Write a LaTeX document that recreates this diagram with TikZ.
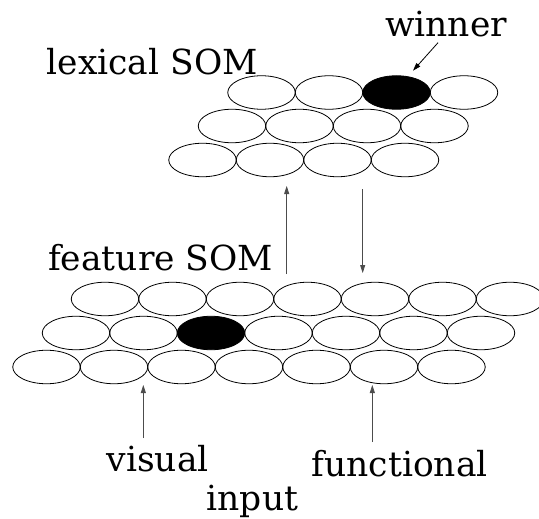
\documentclass[tikz,border=0pt]{standalone}
\usepackage{fontspec}
\setmainfont{DejaVu Serif}
\usetikzlibrary{shapes.geometric,arrows.meta}

\begin{document}
\begin{tikzpicture}
        [x=1pt,y=-1pt,
         cell/.style={draw,shape=ellipse,inner sep=0,minimum width=67.5pt,minimum height=33.5pt,line width=0.8pt},
         winnercell/.style={cell,fill=black},
         lbl/.style={inner sep=0,anchor=base west,font=\fontsize{34.5}{40}\selectfont},
         flow/.style={-{Triangle[length=8pt,width=5pt]},line width=0.8pt,black!70}]

        \useasboundingbox (0,0) rectangle (539,519);

        % lexical SOM
        \node[cell] (lex11) at (261.5, 92.5) {};
        \node[cell] (lex12) at (329, 92.5) {};
        \node[winnercell] (lex13) at (396.5, 92.5) {};
        \node[cell] (lex14) at (464, 92.5) {};
        \node[cell] (lex21) at (232, 126) {};
        \node[cell] (lex22) at (299.5, 126) {};
        \node[cell] (lex23) at (367, 126) {};
        \node[cell] (lex24) at (434.5, 126) {};
        \node[cell] (lex31) at (202.5, 160) {};
        \node[cell] (lex32) at (270, 160) {};
        \node[cell] (lex33) at (337.5, 160) {};
        \node[cell] (lex34) at (405, 160) {};

        % feature SOM
        \node[cell] (feat11) at (105, 299) {};
        \node[cell] (feat12) at (172.5, 299) {};
        \node[cell] (feat13) at (240, 299) {};
        \node[cell] (feat14) at (307.5, 299) {};
        \node[cell] (feat15) at (375, 299) {};
        \node[cell] (feat16) at (442.5, 299) {};
        \node[cell] (feat17) at (510, 299) {};
        \node[cell] (feat21) at (76, 333) {};
        \node[cell] (feat22) at (143.5, 333) {};
        \node[winnercell] (feat23) at (211, 333) {};
        \node[cell] (feat24) at (278.5, 333) {};
        \node[cell] (feat25) at (346, 333) {};
        \node[cell] (feat26) at (413.5, 333) {};
        \node[cell] (feat27) at (481, 333) {};
        \node[cell] (feat31) at (46.5, 367) {};
        \node[cell] (feat32) at (114, 367) {};
        \node[cell] (feat33) at (181.5, 367) {};
        \node[cell] (feat34) at (249, 367) {};
        \node[cell] (feat35) at (316.5, 367) {};
        \node[cell] (feat36) at (384, 367) {};
        \node[cell] (feat37) at (451.5, 367) {};

        % labels
        \node[lbl] (lexlbl) at (46.5, 75) {lexical SOM};
        \node[lbl] (winlbl) at (385, 36.5) {winner};
        \node[lbl] (featlbl) at (48, 270) {feature SOM};
        \node[lbl] (vislbl) at (106.5, 471.5) {visual};
        \node[lbl] (funlbl) at (311.5, 476.5) {functional};
        \node[lbl] (inlbl) at (206.5, 510) {input};

        % arrow ends
        \coordinate (upfrom) at (286.7, 274);
        \coordinate (upto) at (286.7, 186);
        \coordinate (downfrom) at (362.7, 189);
        \coordinate (downto) at (362.7, 273);
        \coordinate (visfrom) at (143.3, 438);
        \coordinate (visto) at (143.3, 385);
        \coordinate (funfrom) at (372.3, 442);
        \coordinate (funto) at (372.3, 385);
        \coordinate (winfrom) at (438, 42.7);
        \coordinate (winto) at (413, 70.7);

        \draw[flow] (upfrom) -- (upto);
        \draw[flow] (downfrom) -- (downto);
        \draw[flow] (visfrom) -- (visto);
        \draw[flow] (funfrom) -- (funto);
        \draw[flow,black] (winfrom) -- (winto);
      \end{tikzpicture}
\end{document}
